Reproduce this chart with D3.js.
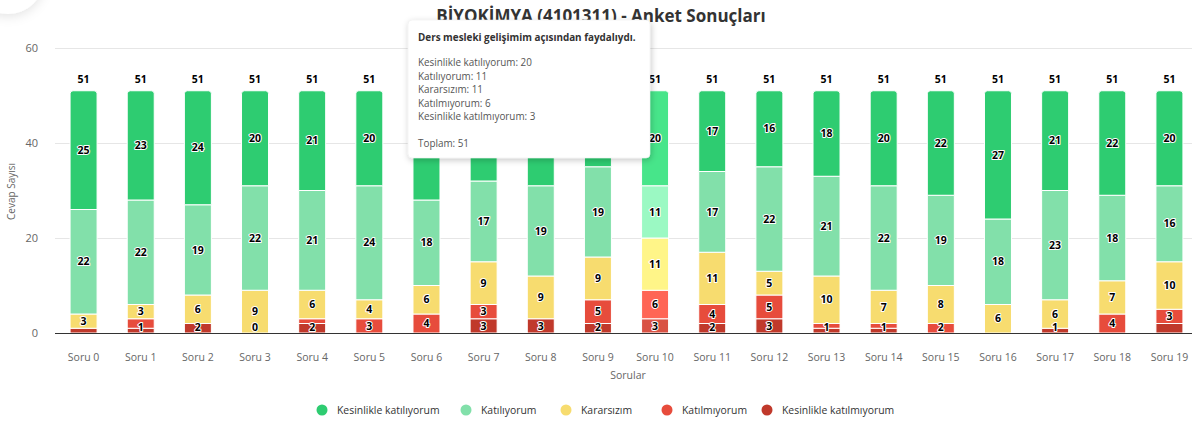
<!DOCTYPE html>
<html>
<head>
<meta charset="utf-8">
<script src="https://cdn.jsdelivr.net/npm/d3@7"></script>
<style>
  html, body { margin: 0; padding: 0; background: #fff; }
  svg { display: block; font-family: "Open Sans", "Noto Sans", sans-serif; }
</style>
</head>
<body>
<svg id="chart" width="1203" height="425"></svg>
<script>
// ---- data ----
const title = "BİYOKİMYA (4101311) - Anket Sonuçları";
const categories = ["Soru 0","Soru 1","Soru 2","Soru 3","Soru 4","Soru 5","Soru 6","Soru 7","Soru 8","Soru 9",
                    "Soru 10","Soru 11","Soru 12","Soru 13","Soru 14","Soru 15","Soru 16","Soru 17","Soru 18","Soru 19"];
const seriesNames = ["Kesinlikle katılıyorum","Katılıyorum","Kararsızım","Katılmıyorum","Kesinlikle katılmıyorum"];
const seriesColors = ["#2ecc71","#82e0aa","#f7dc6f","#e74c3c","#c0392b"];
const hoverColors  = ["#47e58a","#9bf9c3","#fff588","#ff6555","#d95244"];
const kesinlikleKatiliyorum = [25,23,24,20,21,20,23,19,20,16,20,17,16,18,20,22,27,21,22,20];
const katiliyorum           = [22,22,19,22,21,24,18,17,19,19,11,17,22,21,22,19,18,23,18,16];
const kararsizim            = [3,3,6,9,6,4,6,9,9,9,11,11,5,10,7,8,6,6,7,10];
const katilmiyorum          = [null,2,null,null,1,3,4,3,null,5,6,4,5,1,1,2,null,null,4,3];
const kesinlikleKatilmiyorum= [1,1,2,0,2,null,null,3,3,2,3,2,3,1,1,null,null,1,null,2];
const yTicks = [0,20,40,60];
const yTitle = "Cevap Sayısı";
const xTitle = "Sorular";
const hoveredIndex = 10;
const tooltipTitle = "Ders mesleki gelişimim açısından faydalıydı.";
const totalLabel = "Toplam";

const seriesValues = [kesinlikleKatiliyorum, katiliyorum, kararsizim, katilmiyorum, kesinlikleKatilmiyorum];

// ---- layout ----
const svg = d3.select("#chart");
const plotLeft = 55, plotRight = 1192, bandRight = 1198, plotTop = 48, plotBottom = 333;
const tipBox = { x: 408, y: 20, w: 242, h: 138 };
function underTip(cx, cy, hw) {
  return cx - hw > tipBox.x && cx + hw < tipBox.x + tipBox.w && cy - 6 > tipBox.y && cy + 6 < tipBox.y + tipBox.h;
}

const x = d3.scaleBand().domain(categories).range([plotLeft, bandRight]).padding(0);
const y = d3.scaleLinear().domain([0, 60]).range([plotBottom, plotTop]);
const barW = 27;

// defs
const defs = svg.append("defs");
const sh = defs.append("filter").attr("id","shadow").attr("x","-20%").attr("y","-20%").attr("width","140%").attr("height","140%");
sh.append("feDropShadow").attr("dx",1).attr("dy",2).attr("stdDeviation",3).attr("flood-color","#000").attr("flood-opacity",0.22);
const sh2 = defs.append("filter").attr("id","shadow2").attr("x","-50%").attr("y","-50%").attr("width","200%").attr("height","200%");
sh2.append("feDropShadow").attr("dx",0).attr("dy",2).attr("stdDeviation",6).attr("flood-color","#000").attr("flood-opacity",0.12);

// top-left decoration (partial button shadow)
svg.append("circle").attr("cx",8).attr("cy",-22).attr("r",36).attr("fill","#fff").attr("filter","url(#shadow2)");

// title
svg.append("text").attr("x", 601).attr("y", 22).attr("text-anchor","middle")
  .attr("font-size", 17).attr("font-weight", 700).attr("fill","#333").text(title);

// grid
const grid = svg.append("g");
yTicks.forEach(t => {
  if (t === 0) return;
  grid.append("line").attr("x1", plotLeft).attr("x2", plotRight).attr("y1", y(t)).attr("y2", y(t))
    .attr("stroke","#e6e6e6").attr("stroke-width",1).attr("shape-rendering","crispEdges");
});

// y axis labels
const yAxis = d3.axisLeft(y).tickValues(yTicks).tickSize(0).tickPadding(0);
const yg = svg.append("g").attr("transform", `translate(${plotLeft - 17},0)`).call(yAxis);
yg.select(".domain").remove();
yg.selectAll("text").attr("font-size", 11).attr("fill","#666").attr("font-family","Open Sans, sans-serif").attr("dy","0.35em");

// y title
svg.append("text").attr("transform", `translate(15,${(plotTop+plotBottom)/2 + 1}) rotate(-90)`)
  .attr("text-anchor","middle").attr("font-size",10).attr("fill","#666").text(yTitle);

// stacks
const stackData = categories.map((c, i) => {
  const o = { cat: c, i };
  seriesNames.forEach((s, k) => { o[s] = seriesValues[k][i] == null ? 0 : seriesValues[k][i]; });
  return o;
});
const stackOrder = seriesNames.slice().reverse(); // bottom: Kesinlikle katılmıyorum
const stack = d3.stack().keys(stackOrder);
const stacked = stack(stackData);

const barsG = svg.append("g");
const labelsG = svg.append("g");

function topRoundedRect(x0, y0, w, h, r) {
  r = Math.min(r, h, w/2);
  return `M${x0},${y0+h}V${y0+r}Q${x0},${y0} ${x0+r},${y0}H${x0+w-r}Q${x0+w},${y0} ${x0+w},${y0+r}V${y0+h}Z`;
}

const allLabels = categories.map(() => []);
stacked.forEach(layer => {
  const sName = layer.key;
  const k = seriesNames.indexOf(sName);
  layer.forEach((d, i) => {
    const raw = seriesValues[k][i];
    const cx = x(categories[i]) + x.bandwidth()/2;
    const x0 = cx - barW/2;
    const yTop = y(d[1]), yBot = y(d[0]);
    const h = yBot - yTop;
    const color = i === hoveredIndex ? hoverColors[k] : seriesColors[k];
    if (h > 0) {
      if (k === 0) {
        barsG.append("path").attr("d", topRoundedRect(x0, yTop, barW, h, 3))
          .attr("fill", color).attr("stroke","#fff").attr("stroke-width",1);
      } else {
        barsG.append("rect").attr("x", x0).attr("y", yTop).attr("width", barW).attr("height", h)
          .attr("fill", color).attr("stroke","#fff").attr("stroke-width",1);
      }
    }
    if (raw != null) {
      let cy = (yTop + yBot)/2;
      cy = Math.min(cy, plotBottom - 5.5);
      allLabels[i].push({ cx, cy, rank: h, text: String(raw), k });
    }
  });
});

// hide overlapping data labels (rank = segment height)
const labH = 12.5;
allLabels.forEach(list => {
  const sorted = list.slice().sort((a, b) => b.rank - a.rank);
  const shown = [];
  sorted.forEach(l => {
    if (shown.every(s => Math.abs(s.cy - l.cy) >= labH)) shown.push(l);
  });
  shown.sort((a,b)=>b.k-a.k).forEach(l => {
    if (underTip(l.cx, l.cy, 8)) return; // fully covered by the tooltip
    labelsG.append("text").attr("x", l.cx).attr("y", l.cy).attr("dy","0.35em")
      .attr("text-anchor","middle").attr("font-size",10.5).attr("font-weight",700)
      .attr("fill","#000").attr("stroke","#fff").attr("stroke-width",2).attr("stroke-linejoin","round")
      .attr("paint-order","stroke").text(l.text);
  });
});

// totals
stackData.forEach((d, i) => {
  const tot = d3.sum(seriesValues, s => s[i] || 0);
  const cx = x(categories[i]) + x.bandwidth()/2, cy = y(tot) - 11;
  if (underTip(cx, cy, 8)) return;
  svg.append("text").attr("x", cx).attr("y", cy).attr("dy","0.35em")
    .attr("text-anchor","middle").attr("font-size",10.5).attr("font-weight",700).attr("fill","#000").text(tot);
});

// x axis
svg.append("line").attr("x1", plotLeft).attr("x2", plotRight).attr("y1", plotBottom + 0.5).attr("y2", plotBottom + 0.5)
  .attr("stroke","#333").attr("stroke-width",1);
const xAxis = d3.axisBottom(x).tickSize(0).tickPadding(0);
const xg = svg.append("g").attr("transform", `translate(0,${plotBottom + 24})`).call(xAxis);
xg.select(".domain").remove();
xg.selectAll("text").attr("font-size",10.5).attr("fill","#666").attr("font-family","Open Sans, sans-serif").attr("dy","0.35em");

svg.append("text").attr("x", 628).attr("y", 375).attr("dy","0.35em").attr("text-anchor","middle")
  .attr("font-size",10.5).attr("fill","#666").text(xTitle);

// legend
const legendX = [322, 466, 566, 667, 767];
const lg = svg.append("g");
seriesNames.forEach((s, k) => {
  lg.append("circle").attr("cx", legendX[k]).attr("cy", 410).attr("r", 5.5).attr("fill", seriesColors[k]);
  lg.append("text").attr("x", legendX[k] + 15).attr("y", 410).attr("dy","0.35em")
    .attr("font-size",10.4).attr("fill","#333").text(s);
});

// tooltip
const tt = svg.append("g").attr("transform",`translate(${tipBox.x},${tipBox.y})`);
tt.append("rect").attr("width",tipBox.w).attr("height",tipBox.h).attr("rx",4).attr("fill","#fff")
  .attr("stroke","#e8e8e8").attr("stroke-width",0.5).attr("filter","url(#shadow)");
tt.append("text").attr("x",10).attr("y",18).attr("dy","0.35em").attr("font-size",9.9).attr("font-weight",700)
  .attr("fill","#333").text(tooltipTitle);
seriesNames.forEach((s, k) => {
  tt.append("text").attr("x",10).attr("y",43 + k*13.5).attr("dy","0.35em").attr("font-size",9.9).attr("fill","#555")
    .text(`${s}: ${seriesValues[k][hoveredIndex] || 0}`);
});
tt.append("text").attr("x",10).attr("y",124).attr("dy","0.35em").attr("font-size",9.9).attr("fill","#555")
  .text(`${totalLabel}: ${d3.sum(seriesValues, s => s[hoveredIndex] || 0)}`);
</script>
</body>
</html>
